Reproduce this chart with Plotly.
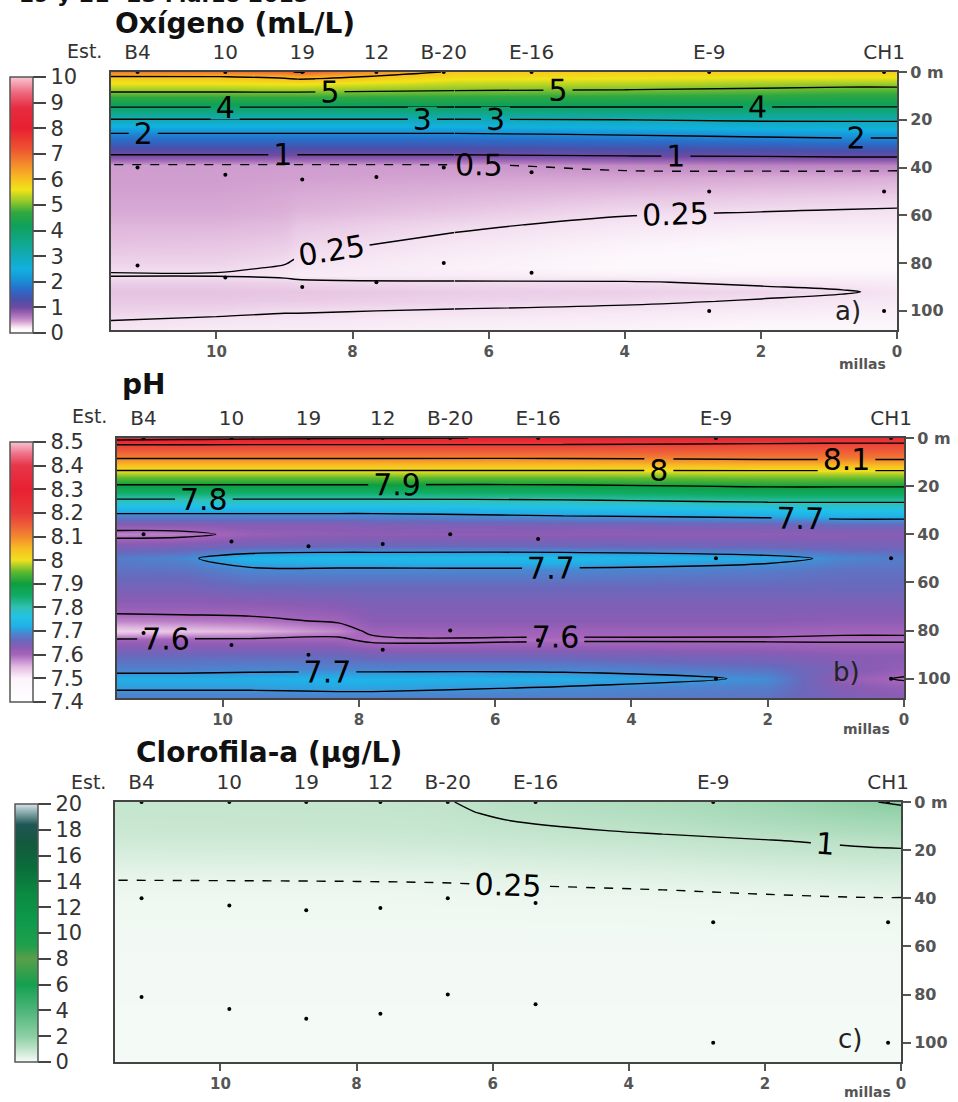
import plotly.graph_objects as go

W, H = 958, 1102

# ---------------- shared data ----------------
stations = ["B4", "10", "19", "12", "B-20", "E-16", "E-9", "CH1"]
station_mi = [11.16, 9.87, 8.74, 7.65, 6.66, 5.37, 2.76, 0.19]
surface_m = [0, 0, 0, 0, 0, 0, 0, 0]
mid_m = [40, 43, 45, 44, 40, 42, 50, 50]
deep_m = [81, 86, 90, 88, 80, 84, 100, 100]

depth_ticks = [0, 20, 40, 60, 80, 100]
depth_ticktext = ["0 m", "20", "40", "60", "80", "100"]
mi_ticks = [10, 8, 6, 4, 2, 0]
mi_range = [11.55, 0]
depth_range = [108, 0]

# ---------------- a) Oxygen (mL/L) ----------------
ox_mi = [11.55, 10.0, 9.0, 8.8, 6.5, 4.0, 2.0, 0.8, 0.0]
ox_m = [0, 2, 5, 9, 15, 20, 26, 32, 36, 39, 44, 52, 58, 64, 72, 78, 82, 85, 88, 92, 96, 100, 104, 108]
ox_val = [
    [6.7, 6.75, 6.9, 7.05, 5.9, 5.85, 5.85, 5.85, 5.85],
    [5.95, 5.98, 6.1, 6.2, 5.7, 5.65, 5.6, 5.6, 5.6],
    [5.55, 5.55, 5.6, 5.6, 5.35, 5.3, 5.2, 5.15, 5.15],
    [4.9, 4.9, 4.9, 4.9, 4.85, 4.8, 4.75, 4.7, 4.7],
    [3.95, 3.95, 3.95, 3.95, 3.95, 3.95, 3.95, 3.95, 3.95],
    [2.95, 2.95, 2.95, 2.95, 2.95, 3.0, 3.1, 3.1, 3.1],
    [1.95, 1.95, 1.95, 1.95, 1.95, 2.05, 2.15, 2.2, 2.2],
    [1.3, 1.3, 1.3, 1.3, 1.3, 1.35, 1.4, 1.45, 1.45],
    [0.85, 0.85, 0.85, 0.85, 0.85, 0.9, 0.92, 0.95, 0.95],
    [0.47, 0.47, 0.47, 0.47, 0.48, 0.55, 0.58, 0.58, 0.58],
    [0.46, 0.46, 0.45, 0.45, 0.44, 0.44, 0.42, 0.42, 0.41],
    [0.44, 0.44, 0.42, 0.41, 0.38, 0.34, 0.32, 0.31, 0.3],
    [0.42, 0.42, 0.4, 0.38, 0.33, 0.27, 0.255, 0.245, 0.24],
    [0.38, 0.38, 0.36, 0.33, 0.27, 0.22, 0.2, 0.2, 0.2],
    [0.34, 0.33, 0.31, 0.28, 0.22, 0.17, 0.15, 0.15, 0.15],
    [0.3, 0.3, 0.27, 0.245, 0.19, 0.15, 0.13, 0.13, 0.13],
    [0.27, 0.27, 0.24, 0.22, 0.18, 0.15, 0.14, 0.14, 0.14],
    [0.24, 0.24, 0.22, 0.2, 0.2, 0.18, 0.17, 0.17, 0.17],
    [0.3, 0.3, 0.29, 0.28, 0.26, 0.26, 0.23, 0.21, 0.2],
    [0.34, 0.34, 0.33, 0.33, 0.31, 0.3, 0.28, 0.26, 0.23],
    [0.32, 0.32, 0.31, 0.31, 0.29, 0.27, 0.24, 0.22, 0.21],
    [0.29, 0.28, 0.26, 0.26, 0.24, 0.22, 0.2, 0.19, 0.19],
    [0.25, 0.23, 0.22, 0.22, 0.2, 0.19, 0.17, 0.17, 0.17],
    [0.22, 0.2, 0.2, 0.2, 0.18, 0.17, 0.15, 0.15, 0.15],
]
ox_levels = [1, 2, 3, 4, 5, 6, 7]          # solid, evenly spaced
ox_levels_extra = [0.25]                   # solid
ox_levels_dashed = [0.5]                   # dashed
ox_cbar_vals = [0, 1, 2, 3, 4, 5, 6, 7, 8, 9, 10]
ox_cbar_text = ["0", "1", "2", "3", "4", "5", "6", "7", "8", "9", "10"]

# ---------------- b) pH ----------------
ph_mi = [11.55, 10.6, 9.6, 8.3, 7.8, 5.0, 2.0, 0.9, 0.0]
ph_m = [0, 3, 8, 14, 20, 26, 32, 36, 40, 45, 50, 55, 62, 70, 76, 80, 84, 90, 96, 100, 104, 108]
ph_val = [
    [8.34, 8.33, 8.32, 8.31, 8.31, 8.29, 8.27, 8.25, 8.25],
    [8.19, 8.19, 8.19, 8.19, 8.19, 8.19, 8.18, 8.18, 8.18],
    [8.11, 8.11, 8.11, 8.11, 8.11, 8.11, 8.12, 8.12, 8.12],
    [7.99, 7.99, 7.99, 7.99, 7.99, 7.99, 7.99, 7.99, 7.99],
    [7.89, 7.89, 7.89, 7.89, 7.89, 7.89, 7.905, 7.905, 7.905],
    [7.79, 7.79, 7.79, 7.79, 7.79, 7.795, 7.81, 7.81, 7.81],
    [7.69, 7.69, 7.69, 7.69, 7.69, 7.705, 7.72, 7.73, 7.73],
    [7.63, 7.63, 7.635, 7.635, 7.64, 7.645, 7.65, 7.66, 7.66],
    [7.58, 7.585, 7.615, 7.625, 7.625, 7.625, 7.625, 7.63, 7.63],
    [7.64, 7.645, 7.655, 7.66, 7.66, 7.66, 7.655, 7.65, 7.65],
    [7.68, 7.69, 7.73, 7.74, 7.74, 7.74, 7.715, 7.69, 7.68],
    [7.67, 7.67, 7.69, 7.69, 7.69, 7.69, 7.68, 7.67, 7.67],
    [7.65, 7.65, 7.66, 7.66, 7.66, 7.66, 7.66, 7.66, 7.66],
    [7.62, 7.62, 7.62, 7.63, 7.64, 7.64, 7.64, 7.64, 7.64],
    [7.58, 7.585, 7.59, 7.605, 7.63, 7.63, 7.63, 7.625, 7.625],
    [7.53, 7.54, 7.55, 7.58, 7.61, 7.61, 7.61, 7.605, 7.605],
    [7.61, 7.61, 7.61, 7.61, 7.59, 7.595, 7.595, 7.595, 7.595],
    [7.66, 7.66, 7.66, 7.66, 7.65, 7.65, 7.64, 7.63, 7.63],
    [7.685, 7.685, 7.69, 7.69, 7.69, 7.69, 7.67, 7.64, 7.62],
    [7.72, 7.72, 7.72, 7.725, 7.725, 7.72, 7.695, 7.62, 7.595],
    [7.705, 7.705, 7.705, 7.71, 7.71, 7.695, 7.68, 7.635, 7.62],
    [7.68, 7.68, 7.68, 7.68, 7.68, 7.68, 7.67, 7.64, 7.63],
]
ph_levels = [7.6, 7.7, 7.8, 7.9, 8.0, 8.1, 8.2, 8.3]
ph_cbar_vals = [7.4, 7.5, 7.6, 7.7, 7.8, 7.9, 8.0, 8.1, 8.2, 8.3, 8.4, 8.5]
ph_cbar_text = ["7.4", "7.5", "7.6", "7.7", "7.8", "7.9", "8", "8.1", "8.2", "8.3", "8.4", "8.5"]

# ---------------- c) Chlorophyll-a (ug/L) ----------------
chl_mi = [11.55, 8.0, 6.8, 6.2, 5.8, 3.5, 2.0, 0.5, 0.0]
chl_m = [0, 4, 8, 12, 16, 20, 25, 30, 35, 40, 50, 60, 80, 100, 108]
chl_val = [
    [0.9, 0.92, 0.96, 1.06, 1.15, 1.35, 1.6, 1.95, 2.1],
    [0.88, 0.9, 0.93, 1.01, 1.08, 1.28, 1.5, 1.75, 1.8],
    [0.85, 0.87, 0.9, 0.95, 0.99, 1.18, 1.38, 1.55, 1.58],
    [0.8, 0.82, 0.85, 0.88, 0.9, 1.05, 1.2, 1.35, 1.38],
    [0.7, 0.72, 0.75, 0.78, 0.8, 0.9, 0.98, 1.1, 1.13],
    [0.6, 0.62, 0.64, 0.66, 0.68, 0.78, 0.9, 0.95, 0.97],
    [0.45, 0.46, 0.48, 0.5, 0.52, 0.6, 0.68, 0.75, 0.76],
    [0.3, 0.31, 0.32, 0.34, 0.35, 0.42, 0.5, 0.55, 0.56],
    [0.2, 0.21, 0.22, 0.23, 0.24, 0.28, 0.33, 0.38, 0.4],
    [0.15, 0.15, 0.16, 0.16, 0.17, 0.18, 0.21, 0.24, 0.24],
    [0.1, 0.1, 0.1, 0.1, 0.1, 0.11, 0.12, 0.12, 0.12],
    [0.08, 0.08, 0.08, 0.08, 0.08, 0.08, 0.08, 0.08, 0.08],
    [0.06, 0.06, 0.06, 0.06, 0.06, 0.06, 0.06, 0.06, 0.06],
    [0.05, 0.05, 0.05, 0.05, 0.05, 0.05, 0.05, 0.05, 0.05],
    [0.05, 0.05, 0.05, 0.05, 0.05, 0.05, 0.05, 0.05, 0.05],
]
chl_levels = [1, 2]
chl_levels_dashed = [0.25]
chl_cbar_vals = [0, 2, 4, 6, 8, 10, 12, 14, 16, 18, 20]
chl_cbar_text = ["0", "2", "4", "6", "8", "10", "12", "14", "16", "18", "20"]

# ---------------- colour scales ----------------
ox_cs = [
    [0.0, "#ffffff"], [0.015, "#fdf8fc"], [0.025, "#f3dff0"], [0.035, "#e4bfe0"],
    [0.045, "#d2a0d0"], [0.06, "#b77fc0"], [0.08, "#9460b0"], [0.1, "#6f4aa2"],
    [0.13, "#4a50aa"], [0.17, "#2a6cc8"], [0.21, "#1893d8"], [0.25, "#12b0e0"],
    [0.3, "#12aab8"], [0.35, "#10a890"], [0.42, "#10a058"], [0.47, "#30a840"],
    [0.52, "#a0cc28"], [0.56, "#f0e418"], [0.6, "#f8c020"], [0.66, "#f38a2c"],
    [0.72, "#ee5230"], [0.8, "#e82030"], [0.88, "#e62c40"], [0.94, "#ee6a80"],
    [1.0, "#f8c8d2"],
]
ph_cs = [
    [0.0, "#ffffff"], [0.0909, "#fcf4fb"], [0.1364, "#e2b8e0"], [0.1818, "#a665bb"],
    [0.2091, "#8a5cb4"], [0.2364, "#6a68bc"], [0.2636, "#4a86d0"], [0.2909, "#20b0e8"],
    [0.3273, "#22c2e6"], [0.3636, "#30c0b4"], [0.4091, "#10ac66"], [0.4545, "#0e9e40"],
    [0.5, "#5cb830"], [0.5455, "#f0e020"], [0.5909, "#f8bc22"], [0.6364, "#f2882e"],
    [0.6818, "#ee5c38"], [0.7273, "#e83a38"], [0.8182, "#e82032"], [0.9091, "#e63648"],
    [0.9545, "#ee7088"], [1.0, "#f8c4d0"],
]
chl_cs = [
    [0.0, "#f7fbf8"], [0.0125, "#e8f5eb"], [0.05, "#bfe3ca"], [0.1, "#8ccfa4"],
    [0.2, "#4db579"], [0.3, "#14a050"], [0.4, "#5a9e48"], [0.45, "#20a04c"],
    [0.55, "#0c9a4a"], [0.65, "#0b8a42"], [0.75, "#0a6e3a"], [0.85, "#14583e"],
    [0.92, "#1f5656"], [1.0, "#d5e5ea"],
]

FONT = "DejaVu Sans"

# contour line groups: (levels, dash, split column index or None)
panels = [
    dict(x=ox_mi, y=ox_m, z=ox_val, zmin=0, zmax=10, cs=ox_cs,
         groups=[(ox_levels, "solid", 4), (ox_levels_extra, "solid", 4),
                 (ox_levels_dashed, "dash", None)],
         cvals=ox_cbar_vals, ctext=ox_cbar_text,
         box=(111, 72, 897, 330), cbar=(10, 33, 77, 333),
         title="Oxígeno (mL/L)", title_xy=(235, 23), tag="a)", tag_xy=(848, 311),
         est_xy=(84, 51), millas_xy=(862, 364)),
    dict(x=ph_mi, y=ph_m, z=ph_val, zmin=7.4, zmax=8.5, cs=ph_cs,
         groups=[(ph_levels, "solid", None)],
         cvals=ph_cbar_vals, ctext=ph_cbar_text,
         box=(117, 438, 904, 698), cbar=(10, 33, 442, 702),
         title="pH", title_xy=(143, 384), tag="b)", tag_xy=(846, 672),
         est_xy=(89, 416), millas_xy=(866, 729)),
    dict(x=chl_mi, y=chl_m, z=chl_val, zmin=0, zmax=20, cs=chl_cs,
         groups=[(chl_levels, "solid", None), (chl_levels_dashed, "dash", None)],
         cvals=chl_cbar_vals, ctext=chl_cbar_text,
         box=(115, 802, 901, 1062), cbar=(15, 38, 804, 1062),
         title="Clorofila-a (µg/L)", title_xy=(269, 752), tag="c)", tag_xy=(850, 1039),
         est_xy=(88, 782), millas_xy=(867, 1092)),
]

fig = go.Figure()
layout = dict(
    width=W, height=H, autosize=False,
    margin=dict(l=0, r=0, t=0, b=0, pad=0, autoexpand=False),
    paper_bgcolor="white", plot_bgcolor="white",
    showlegend=False,
    font=dict(family=FONT, color="#333"),
)
annotations = []


def px_x(p):
    return p / W


def px_y(p):
    return 1 - p / H


def level_trace(gx, gy, gz, xa, ya, lv, dash):
    step = (lv[-1] - lv[0]) / (len(lv) - 1) if len(lv) > 1 else 1
    return go.Contour(
        x=gx, y=gy, z=gz, xaxis=xa, yaxis=ya,
        autocontour=False,
        contours=dict(start=lv[0], end=lv[-1], size=step, coloring="none",
                      showlabels=True, labelformat="~g",
                      labelfont=dict(family=FONT, size=30, color="black")),
        line=dict(color="black", width=1.4, dash=dash),
        showscale=False, hoverinfo="skip",
    )


for i, P in enumerate(panels):
    n = i + 1
    xs = "" if n == 1 else str(n)
    xa, ya = "x" + xs, "y" + xs
    xtop = "x" + str(n + 3)
    gx = P["x"][::-1]
    gz = [row[::-1] for row in P["z"]]
    x0, y0, x1, y1 = P["box"]
    cx0, cx1, cy0, cy1 = P["cbar"]

    fig.add_trace(go.Heatmap(
        x=gx, y=P["y"], z=gz, zsmooth="best",
        colorscale=P["cs"], zmin=P["zmin"], zmax=P["zmax"],
        xaxis=xa, yaxis=ya, hoverinfo="skip",
        colorbar=dict(
            x=px_x(cx0), xanchor="left", y=px_y((cy0 + cy1) / 2), yanchor="middle",
            len=(cy1 - cy0) / H, lenmode="fraction",
            thickness=cx1 - cx0, thicknessmode="pixels",
            xpad=0, ypad=0, outlinewidth=1.5, outlinecolor="#555",
            tickmode="array", tickvals=P["cvals"], ticktext=P["ctext"],
            ticks="outside", ticklen=13, tickwidth=2, tickcolor="#444",
            tickfont=dict(family=FONT, size=21, color="#333"),
        ),
    ))

    ncol = len(P["x"])
    for levels, dash, split in P["groups"]:
        parts = [(0, ncol)] if split is None else [(0, split + 1), (split, ncol)]
        for a, b in parts:
            sx = P["x"][a:b][::-1]
            sz = [row[a:b][::-1] for row in P["z"]]
            fig.add_trace(level_trace(sx, P["y"], sz, xa, ya, levels, dash))

    for depths in (surface_m, mid_m, deep_m):
        fig.add_trace(go.Scatter(
            x=station_mi, y=depths, mode="markers",
            marker=dict(color="black", size=4),
            xaxis=xtop if depths is surface_m else xa, yaxis=ya,
            cliponaxis=False, hoverinfo="skip",
        ))

    axis_common = dict(showgrid=False, zeroline=False, automargin=False)
    layout["xaxis" + xs] = dict(
        domain=[px_x(x0), px_x(x1)], anchor=ya, range=mi_range,
        tickmode="array", tickvals=mi_ticks, ticks="outside", ticklen=7,
        tickwidth=2, tickcolor="#555", showline=True, linecolor="#444",
        linewidth=2, mirror=True,
        tickfont=dict(family=FONT, size=15, color="#555", weight="bold"),
        **axis_common,
    )
    layout["yaxis" + xs] = dict(
        domain=[px_y(y1), px_y(y0)], anchor=xa, range=depth_range, side="right",
        tickmode="array", tickvals=depth_ticks, ticktext=depth_ticktext,
        ticks="outside", ticklen=8, tickwidth=2, tickcolor="#555",
        showline=True, linecolor="#444", linewidth=2, mirror=True,
        tickfont=dict(family=FONT, size=16, color="#555", weight="bold"),
        **axis_common,
    )
    layout["xaxis" + str(n + 3)] = dict(
        overlaying=xa, anchor=ya, side="top", range=mi_range,
        tickmode="array", tickvals=station_mi, ticktext=stations,
        ticks="outside", ticklen=4, tickcolor="rgba(0,0,0,0)",
        showline=False, tickfont=dict(family=FONT, size=20, color="#333"),
        **axis_common,
    )

    tx, ty = P["title_xy"]
    annotations.append(dict(text=P["title"], x=px_x(tx), y=px_y(ty), xref="paper", yref="paper",
                            showarrow=False, xanchor="center", yanchor="middle",
                            font=dict(family=FONT, size=28, color="#111", weight="bold")))
    ex, ey = P["est_xy"]
    annotations.append(dict(text="Est.", x=px_x(ex), y=px_y(ey), xref="paper", yref="paper",
                            showarrow=False, xanchor="center", yanchor="middle",
                            font=dict(family=FONT, size=19, color="#333")))
    gx_, gy_ = P["tag_xy"]
    annotations.append(dict(text=P["tag"], x=px_x(gx_), y=px_y(gy_), xref="paper", yref="paper",
                            showarrow=False, xanchor="center", yanchor="middle",
                            font=dict(family=FONT, size=26, color="#222")))
    mx, my = P["millas_xy"]
    annotations.append(dict(text="millas", x=px_x(mx), y=px_y(my), xref="paper", yref="paper",
                            showarrow=False, xanchor="center", yanchor="middle",
                            font=dict(family=FONT, size=14, color="#555", weight="bold")))

annotations.append(dict(text="- 19 y 21- 23 Marzo 2015", x=0, y=1, xref="paper", yref="paper",
                        showarrow=False, xanchor="left", yanchor="middle", yshift=6,
                        font=dict(family=FONT, size=22, color="#111", weight="bold")))

layout["annotations"] = annotations
fig.update_layout(**layout)
fig.write_html("out.html")
